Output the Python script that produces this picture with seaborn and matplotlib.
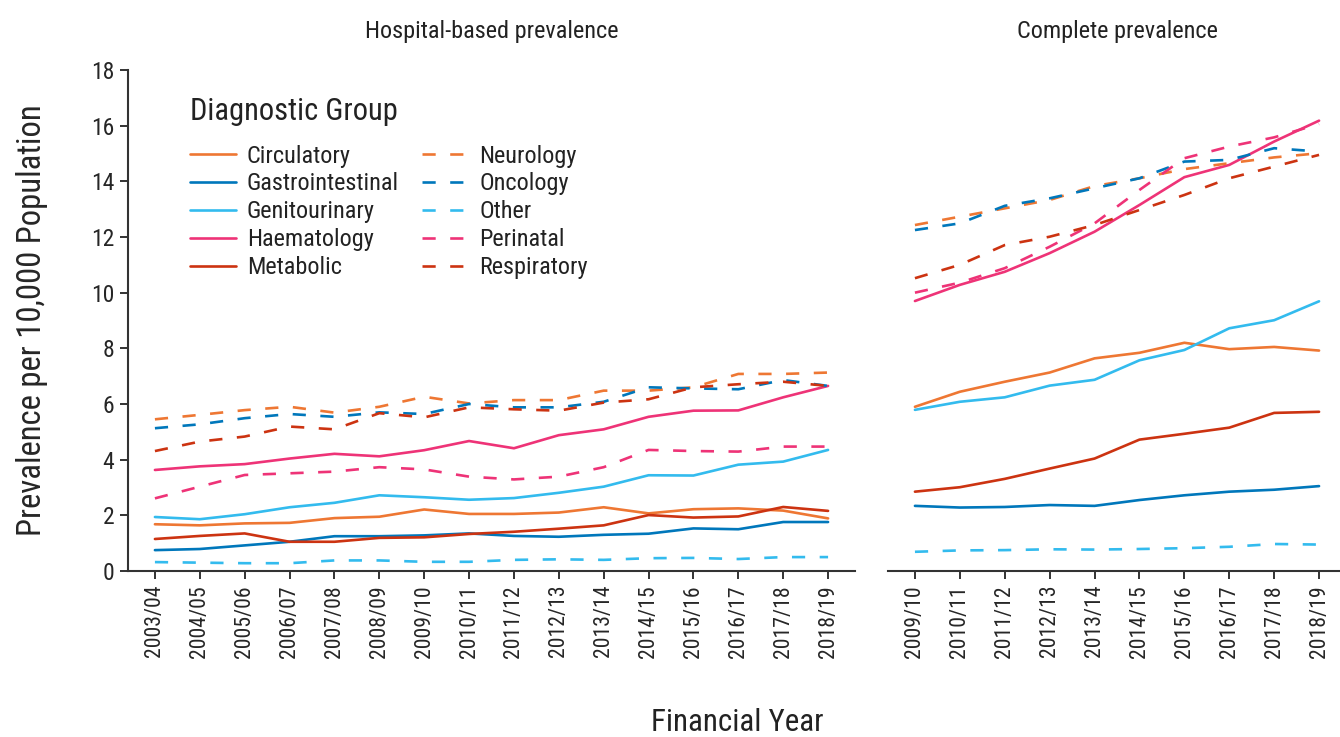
import pandas as pd
import numpy as np
import seaborn as sns
from matplotlib import pyplot as plt

# financial years for both panels
years_hosp = ['2003/04', '2004/05', '2005/06', '2006/07', '2007/08', '2008/09', '2009/10', '2010/11',
              '2011/12', '2012/13', '2013/14', '2014/15', '2015/16', '2016/17', '2017/18', '2018/19']
years_comp = ['2009/10', '2010/11', '2011/12', '2012/13', '2013/14', '2014/15', '2015/16', '2016/17',
              '2017/18', '2018/19']

groups = ['Circulatory', 'Gastrointestinal', 'Genitourinary', 'Haematology', 'Metabolic',
          'Neurology', 'Oncology', 'Other', 'Perinatal', 'Respiratory']

# hospital-based prevalence per 10,000
hosp_circulatory = [1.68, 1.64, 1.71, 1.73, 1.90, 1.95, 2.21, 2.05, 2.05, 2.10, 2.29, 2.07, 2.22, 2.25, 2.17, 1.89]
hosp_gastro = [0.75, 0.79, 0.92, 1.05, 1.25, 1.25, 1.28, 1.35, 1.26, 1.23, 1.30, 1.34, 1.53, 1.50, 1.76, 1.76]
hosp_genito = [1.94, 1.86, 2.04, 2.29, 2.45, 2.72, 2.65, 2.56, 2.62, 2.81, 3.03, 3.44, 3.43, 3.82, 3.93, 4.35]
hosp_haemat = [3.63, 3.76, 3.84, 4.04, 4.21, 4.12, 4.34, 4.67, 4.41, 4.88, 5.09, 5.54, 5.76, 5.77, 6.24, 6.65]
hosp_metabolic = [1.15, 1.26, 1.35, 1.05, 1.05, 1.19, 1.21, 1.33, 1.41, 1.52, 1.64, 2.01, 1.92, 1.96, 2.30, 2.16]
hosp_neuro = [5.45, 5.61, 5.78, 5.90, 5.69, 5.90, 6.26, 6.02, 6.14, 6.14, 6.48, 6.48, 6.60, 7.08, 7.08, 7.13]
hosp_onco = [5.13, 5.27, 5.49, 5.64, 5.54, 5.70, 5.64, 6.00, 5.88, 5.88, 6.08, 6.60, 6.56, 6.53, 6.86, 6.65]
hosp_other = [0.32, 0.30, 0.28, 0.28, 0.38, 0.38, 0.33, 0.33, 0.40, 0.42, 0.40, 0.46, 0.47, 0.43, 0.50, 0.50]
hosp_perinatal = [2.61, 3.03, 3.45, 3.51, 3.57, 3.73, 3.65, 3.39, 3.29, 3.39, 3.73, 4.35, 4.31, 4.29, 4.47, 4.47]
hosp_resp = [4.31, 4.65, 4.83, 5.19, 5.09, 5.67, 5.52, 5.88, 5.81, 5.76, 6.05, 6.17, 6.60, 6.71, 6.80, 6.65]

# complete prevalence per 10,000
comp_circulatory = [5.90, 6.44, 6.80, 7.13, 7.64, 7.84, 8.20, 7.97, 8.05, 7.92]
comp_gastro = [2.34, 2.28, 2.30, 2.37, 2.34, 2.55, 2.72, 2.85, 2.92, 3.05]
comp_genito = [5.79, 6.08, 6.24, 6.66, 6.87, 7.57, 7.94, 8.72, 9.01, 9.69]
comp_haemat = [9.70, 10.28, 10.75, 11.42, 12.19, 13.15, 14.15, 14.59, 15.43, 16.18]
comp_metabolic = [2.85, 3.01, 3.31, 3.68, 4.04, 4.72, 4.93, 5.15, 5.68, 5.72]
comp_neuro = [12.43, 12.73, 13.03, 13.33, 13.83, 14.11, 14.44, 14.65, 14.86, 15.01]
comp_onco = [12.25, 12.49, 13.12, 13.39, 13.75, 14.11, 14.71, 14.77, 15.19, 15.07]
comp_other = [0.69, 0.74, 0.75, 0.78, 0.77, 0.79, 0.82, 0.87, 0.97, 0.95]
comp_perinatal = [10.00, 10.36, 10.88, 11.65, 12.49, 13.69, 14.83, 15.25, 15.58, 16.06]
comp_resp = [10.52, 11.00, 11.71, 12.01, 12.43, 12.97, 13.51, 14.11, 14.53, 14.95]

hosp = [hosp_circulatory, hosp_gastro, hosp_genito, hosp_haemat, hosp_metabolic,
        hosp_neuro, hosp_onco, hosp_other, hosp_perinatal, hosp_resp]
comp = [comp_circulatory, comp_gastro, comp_genito, comp_haemat, comp_metabolic,
        comp_neuro, comp_onco, comp_other, comp_perinatal, comp_resp]


def long_df(years, series):
    rows = []
    for g, vals in zip(groups, series):
        for i, (yr, v) in enumerate(zip(years, vals)):
            rows.append({'Year': yr, 'pos': i, 'Group': g, 'Prevalence': v})
    return pd.DataFrame(rows)


df_hosp = long_df(years_hosp, hosp)
df_comp = long_df(years_comp, comp)

base_cols = ['#EE7733', '#0077BB', '#33BBEE', '#EE3377', '#CC3311']
palette = dict(zip(groups, base_cols + base_cols))
dashes = {g: ('' if i < 5 else (5, 5.5)) for i, g in enumerate(groups)}

sns.set_style('white')
plt.rcParams['font.family'] = ['Roboto Condensed', 'Roboto', 'DejaVu Sans']
plt.rcParams['text.color'] = '#222222'

fig = plt.figure(figsize=(13.4, 7.37), dpi=100)
ax1 = fig.add_axes([128 / 1340, 166 / 737, 727 / 1340, 501 / 737])
ax2 = fig.add_axes([888 / 1340, 166 / 737, 458 / 1340, 501 / 737], sharey=ax1)

sns.lineplot(data=df_hosp, x='pos', y='Prevalence', hue='Group', style='Group',
             palette=palette, dashes=dashes, hue_order=groups, style_order=groups,
             linewidth=1.9, ax=ax1)
sns.lineplot(data=df_comp, x='pos', y='Prevalence', hue='Group', style='Group',
             palette=palette, dashes=dashes, hue_order=groups, style_order=groups,
             linewidth=1.9, ax=ax2, legend=False)

for ax, yrs, title in [(ax1, years_hosp, 'Hospital-based prevalence'),
                       (ax2, years_comp, 'Complete prevalence')]:
    ax.set_xlim(-0.6, len(yrs) - 0.4)
    ax.set_xticks(range(len(yrs)))
    ax.set_xticklabels(yrs, rotation=90, fontsize=15.7)
    ax.set_xlabel('')
    ax.set_title(title, fontsize=17.5, pad=23)
    for s in ['top', 'right']:
        ax.spines[s].set_visible(False)
    ax.spines['bottom'].set_color('#333333')
    ax.spines['bottom'].set_linewidth(1.5)
    ax.tick_params(axis='both', length=6, width=1.4, color='#333333', direction='out',
                   bottom=True, left=True, pad=4)

ax1.set_ylim(0, 18)
ax1.set_yticks(range(0, 19, 2))
ax1.tick_params(axis='y', labelsize=17)
ax1.spines['left'].set_color('#333333')
ax1.spines['left'].set_linewidth(1.5)
ax1.set_ylabel('Prevalence per 10,000 Population', fontsize=23.5, labelpad=31)

ax2.spines['left'].set_visible(False)
ax2.tick_params(axis='y', left=False, labelleft=False)
ax2.set_ylabel('')

sns.move_legend(ax1, 'upper left', bbox_to_anchor=(0.055, 0.99), ncol=2, frameon=False,
                title='Diagnostic Group', title_fontsize=22, fontsize=17.5,
                handlelength=1.9, columnspacing=0.95, labelspacing=0.2, handletextpad=0.45)
leg = ax1.get_legend()
leg._legend_box.align = 'left'
leg._legend_box.sep = 13.5  # extra gap between title and entries

fig.text(737 / 1340, 0.02, 'Financial Year', ha='center', va='center', fontsize=22.3)

fig.savefig('out.png', dpi=100)
